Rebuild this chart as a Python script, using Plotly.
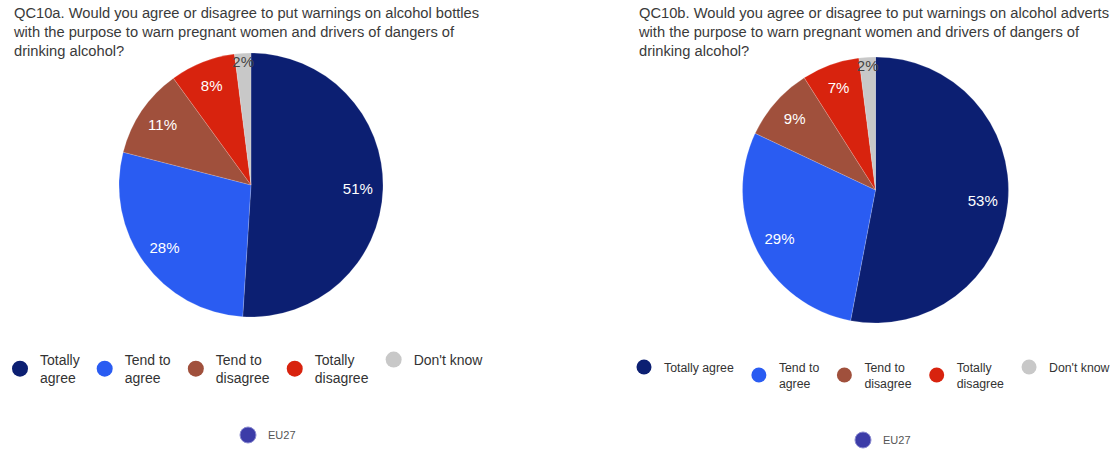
import plotly.graph_objects as go

categories = ["Totally agree", "Tend to agree", "Tend to disagree", "Totally disagree", "Don't know"]
legend_left_labels = ["Totally<br>agree", "Tend to<br>agree", "Tend to<br>disagree", "Totally<br>disagree", "Don't know"]
legend_right_labels = ["Totally agree", "Tend to<br>agree", "Tend to<br>disagree", "Totally<br>disagree", "Don't know"]
values_bottles = [51, 28, 11, 8, 2]
values_adverts = [53, 29, 9, 7, 2]
colors = ["#0c1f72", "#2a5cf2", "#a0503c", "#d8230e", "#c8c8c8"]
text_colors = ["white", "white", "white", "white", "#444444"]

title_left = ("QC10a. Would you agree or disagree to put warnings on alcohol bottles<br>"
              "with the purpose to warn pregnant women and drivers of dangers of<br>"
              "drinking alcohol?")
title_right = ("QC10b. Would you agree or disagree to put warnings on alcohol adverts<br>"
               "with the purpose to warn pregnant women and drivers of dangers of<br>"
               "drinking alcohol?")

FONT = "Liberation Sans, Arial, sans-serif"
W, H = 1118, 450

def dom(cx, cy, r):
    return dict(x=[(cx - r) / W, (cx + r) / W], y=[(H - cy - r) / H, (H - cy + r) / H])

fig = go.Figure()

for vals, (cx, cy, r) in [(values_bottles, (251, 185, 132)), (values_adverts, (875.5, 190, 133))]:
    d = dom(cx, cy, r)
    fig.add_trace(go.Pie(
        labels=categories, values=vals, sort=False, direction="clockwise", rotation=0,
        marker=dict(colors=colors, line=dict(color="rgba(255,255,255,0.35)", width=0.5)),
        textinfo="none", showlegend=False, domain=d, hoverinfo="label+percent",
    ))
    # transparent ring carrying the percentage labels near the rim
    fig.add_trace(go.Pie(
        labels=categories, values=vals, sort=False, direction="clockwise", rotation=0, hole=0.62,
        marker=dict(colors=["rgba(0,0,0,0)"] * len(vals), line=dict(width=0)),
        texttemplate="%{value}%", textposition="inside", insidetextorientation="horizontal",
        insidetextfont=dict(color=text_colors, size=15, family=FONT),
        showlegend=False, domain=d, hoverinfo="skip",
    ))

for lg, labels in [("legend", legend_left_labels), ("legend2", legend_right_labels)]:
    for lab, col in zip(labels, colors):
        fig.add_trace(go.Scatter(x=[None], y=[None], mode="markers", name=lab,
                                 marker=dict(size=16 if lg == "legend" else 15, color=col),
                                 legend=lg, showlegend=True))
for lg in ["legend3", "legend4"]:
    fig.add_trace(go.Scatter(x=[None], y=[None], mode="markers", name="EU27",
                             marker=dict(size=16, color="#3c3ca8", line=dict(color="#8a8ad0", width=1)),
                             legend=lg, showlegend=True))

fig.update_layout(
    width=W, height=H, margin=dict(l=0, r=0, t=0, b=0, autoexpand=False),
    paper_bgcolor="white", plot_bgcolor="white",
    xaxis=dict(visible=False), yaxis=dict(visible=False),
    uniformtext=dict(minsize=15, mode="show"),
    font=dict(family=FONT, color="#333333"),
    legend=dict(orientation="h", x=0, y=(H - 369) / H, yanchor="middle", xanchor="left",
                font=dict(size=14, color="#333333"), itemsizing="trace", valign="middle"),
    legend2=dict(orientation="h", x=624 / W, y=(H - 375) / H, yanchor="middle", xanchor="left",
                 font=dict(size=12.3, color="#333333"), itemsizing="trace", valign="middle"),
    legend3=dict(orientation="h", x=228 / W, y=(H - 435) / H, yanchor="middle", xanchor="left",
                 font=dict(size=11, color="#555555"), itemsizing="trace"),
    legend4=dict(orientation="h", x=843 / W, y=(H - 440) / H, yanchor="middle", xanchor="left",
                 font=dict(size=11, color="#555555"), itemsizing="trace"),
    annotations=[
        dict(text=title_left, x=11 / W, y=1 - 3 / H, xref="paper", yref="paper", xanchor="left", yanchor="top",
             showarrow=False, align="left", font=dict(size=14.7, color="#3a3a3a", family=FONT)),
        dict(text=title_right, x=636 / W, y=1 - 3 / H, xref="paper", yref="paper", xanchor="left", yanchor="top",
             showarrow=False, align="left", font=dict(size=14.7, color="#3a3a3a", family=FONT)),
    ],
)

fig.write_html("out.html", config={"displayModeBar": False},
               post_script="document.body.style.margin='0px';")
